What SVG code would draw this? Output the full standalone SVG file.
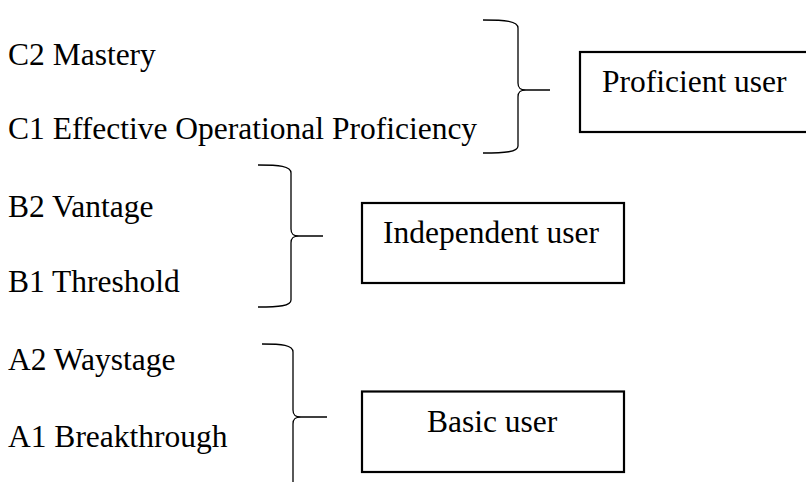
<svg xmlns="http://www.w3.org/2000/svg" width="806" height="482" viewBox="0 0 806 482">
<style>
text{font-family:'Liberation Serif','Times New Roman',Times,serif;font-size:31.5px;fill:#000}
.box{fill:#fff;stroke:#000;stroke-width:2.2}
.brace{fill:none;stroke:#000;stroke-width:1.3}
</style>
<rect width="806" height="482" fill="#fff"/>
<g id="levels" font-family="Liberation Serif, serif">
<text x="8" y="65">C2 Mastery</text>
<text x="8" y="139">C1 Effective Operational Proficiency</text>
<text x="8" y="217">B2 Vantage</text>
<text x="8" y="292">B1 Threshold</text>
<text x="8" y="370">A2 Waystage</text>
<text x="8" y="447">A1 Breakthrough</text>
</g>
<g id="connectors">
<path class="brace" d="M483,20 C505,20 518,21 518,28 L518,83 C518,88 520,90 526,90 L550,90 M526,90 C520,90 518,92 518,97 L518,146 C518,152 505,153 483,153"/>
<path class="brace" d="M258,165 C279,165 291,166 291,173 L291,229 C291,234 293,236 299,236 L323,236 M299,236 C293,236 291,238 291,243 L291,300 C291,306 279,307 258,307"/>
<path class="brace" d="M262,344 C282,344 293,345 293,352 L293,410 C293,415 295,417 301,417 L327,417 M301,417 C295,417 293,419 293,424 L293,490"/>
</g>
<g id="proficient">
<rect class="box" x="580" y="52" width="230" height="80"/>
<text x="602" y="92">Proficient user</text>
</g>
<g id="independent">
<rect class="box" x="362" y="203" width="262" height="80"/>
<text x="383" y="243">Independent user</text>
</g>
<g id="basic">
<rect class="box" x="362" y="391.5" width="262" height="80.5"/>
<text x="427" y="432">Basic user</text>
</g>
</svg>
